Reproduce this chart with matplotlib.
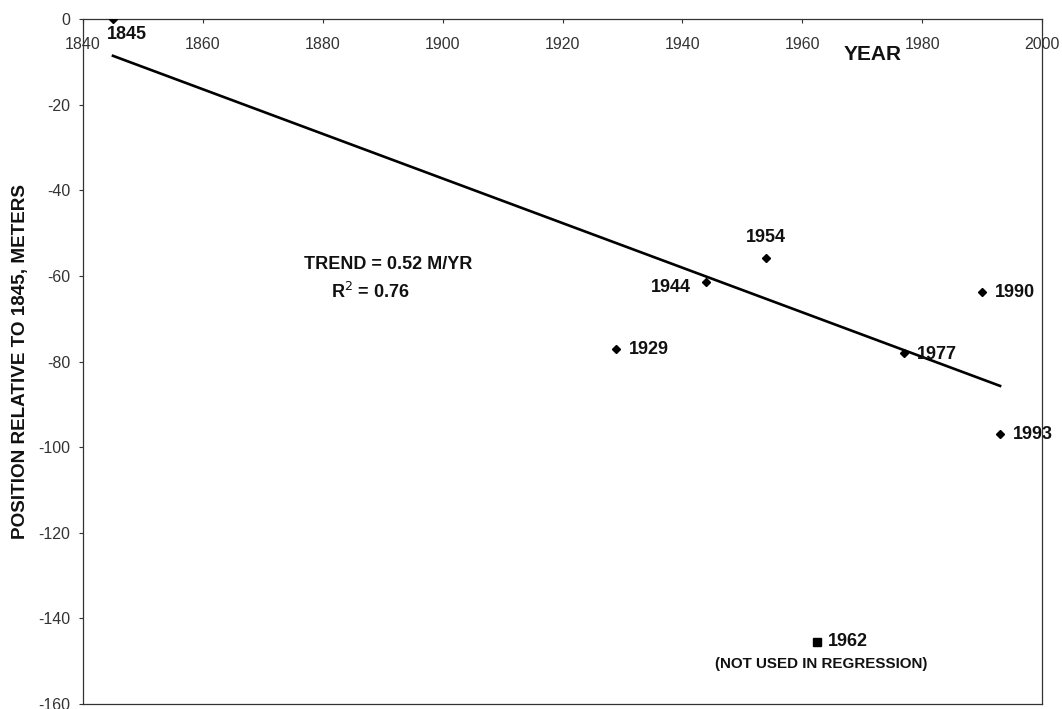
import matplotlib
matplotlib.use("Agg")
import matplotlib.pyplot as plt

plt.rcParams['font.family'] = ['Liberation Sans', 'DejaVu Sans']

years = [1845, 1929, 1944, 1954, 1977, 1990, 1993]
positions = [0.0, -77.1, -61.4, -55.8, -78.0, -63.8, -97.0]
excluded_year = [1962.5]
excluded_pos = [-145.6]
trend_years = [1845, 1993]
trend_pos = [-8.6, -85.7]
xticks = [1840, 1860, 1880, 1900, 1920, 1940, 1960, 1980, 2000]
yticks = [0, -20, -40, -60, -80, -100, -120, -140, -160]

fig = plt.figure(figsize=(10.62, 7.09), dpi=100)
ax = fig.add_axes([83/1062, 1 - 704/709, (1042-83)/1062, (704-19)/709])

ax.plot(trend_years, trend_pos, color='black', lw=1.9, zorder=2)
ax.plot(years, positions, linestyle='none', marker='D', ms=4.5, color='black', zorder=3)
ax.plot(excluded_year, excluded_pos, linestyle='none', marker='s', ms=5.5, color='black', zorder=3)

ax.set_xlim(1840, 2000)
ax.set_ylim(-160, 0)
ax.set_xticks(xticks)
ax.set_yticks(yticks)
ax.set_yticklabels([str(v) for v in yticks])

ax.tick_params(axis='x', top=True, bottom=False, labeltop=True, labelbottom=False,
               direction='in', length=3, pad=-24, labelsize=11.5, colors='#333333')
ax.tick_params(axis='y', direction='out', length=3, pad=6, labelsize=11.5, colors='#333333')
for s in ax.spines.values():
    s.set_linewidth(0.9)
    s.set_color('#333333')

lab = dict(fontsize=13, fontweight='bold', color='#111111')
ax.text(1847.3, -3.7, '1845', ha='center', va='center', **lab)
ax.text(1931, -77.1, '1929', ha='left', va='center', **lab)
ax.text(1941.5, -62.6, '1944', ha='right', va='center', **lab)
ax.text(1954, -53.0, '1954', ha='center', va='bottom', **lab)
ax.text(1979.2, -78.4, '1977', ha='left', va='center', **lab)
ax.text(1992.2, -63.8, '1990', ha='left', va='center', **lab)
ax.text(1995.2, -97.0, '1993', ha='left', va='center', **lab)
ax.text(1964.2, -145.4, '1962', ha='left', va='center', **lab)
ax.text(1963.2, -150.7, '(NOT USED IN REGRESSION)', ha='center', va='center',
        fontsize=10.9, fontweight='bold', color='#111111')

ax.text(1891, -57.4, 'TREND = 0.52 M/YR', ha='center', va='center', **lab)
ax.text(1888, -63.7, 'R$^{2}$ = 0.76', ha='center', va='center', **lab)

ax.text(1971.7, -8.2, 'YEAR', ha='center', va='center', fontsize=15, fontweight='bold', color='#111111')
ax.set_ylabel('POSITION RELATIVE TO 1845, METERS', fontsize=13.6, fontweight='bold', color='#111111')
ax.yaxis.set_label_coords(-(83 - 29) / (1042 - 83), 0.5)

fig.savefig('out.png', dpi=100)
